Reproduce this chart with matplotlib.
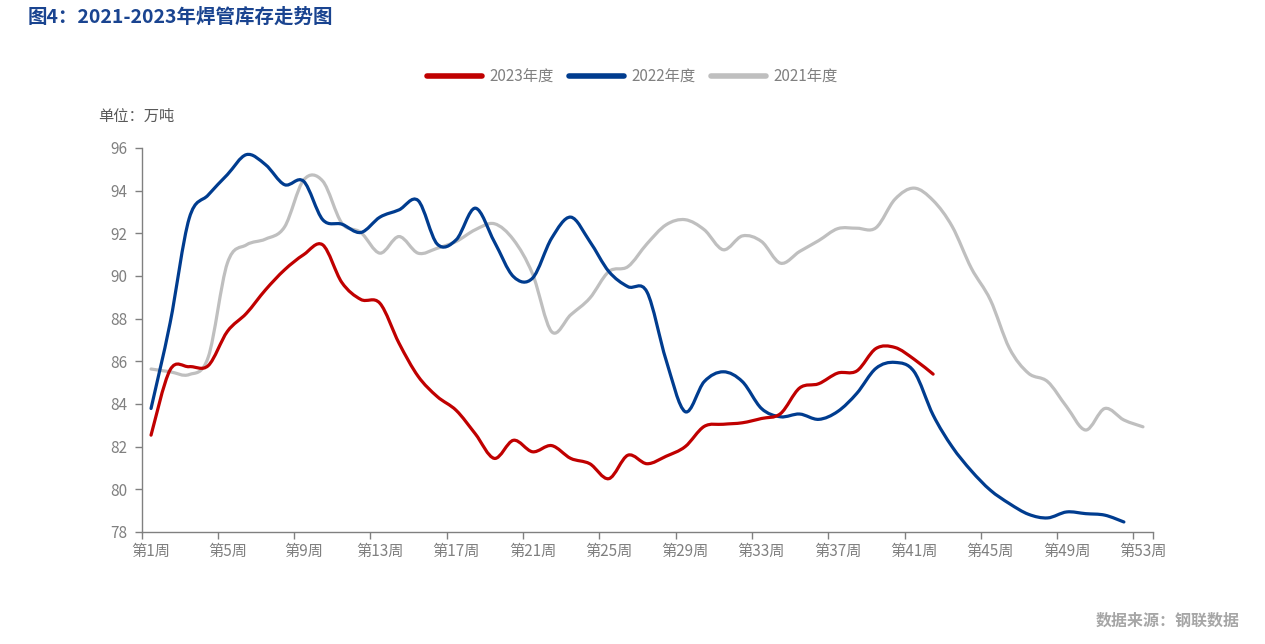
import numpy as np
import matplotlib
matplotlib.use('Agg')
import matplotlib.pyplot as plt
from matplotlib.path import Path
from matplotlib.patches import PathPatch
from matplotlib.lines import Line2D

plt.rcParams['font.family'] = ['Noto Sans CJK SC', 'DejaVu Sans']

# weekly stock of welded pipe, 10k tonnes
stock_2023 = [82.54, 85.6, 85.75, 85.8, 87.4, 88.25, 89.35, 90.29, 91.0, 91.46,
              89.7, 88.9, 88.72, 86.85, 85.3, 84.35, 83.7, 82.6, 81.45, 82.3,
              81.76, 82.05, 81.45, 81.2, 80.5, 81.6, 81.2, 81.55, 82.0, 82.95,
              83.05, 83.12, 83.32, 83.55, 84.75, 84.95, 85.45, 85.55, 86.6, 86.65,
              86.1, 85.4]
stock_2022 = [83.79, 87.8, 92.7, 93.8, 94.75, 95.69, 95.22, 94.28, 94.44, 92.64,
              92.43, 92.04, 92.76, 93.1, 93.54, 91.5, 91.7, 93.18, 91.6, 89.97,
              89.9, 91.77, 92.76, 91.62, 90.21, 89.5, 89.25, 86.06, 83.64, 85.05,
              85.51, 85.05, 83.79, 83.4, 83.53, 83.28, 83.65, 84.5, 85.67, 85.95,
              85.52, 83.48, 81.99, 80.87, 79.96, 79.33, 78.83, 78.66, 78.94, 78.86,
              78.79, 78.47]
stock_2021 = [85.64, 85.51, 85.38, 86.2, 90.6, 91.46, 91.73, 92.3, 94.5, 94.45,
              92.48, 92.04, 91.07, 91.85, 91.07, 91.3, 91.62, 92.17, 92.45, 91.7,
              90.1, 87.39, 88.18, 88.96, 90.21, 90.44, 91.51, 92.4, 92.64, 92.17,
              91.23, 91.88, 91.62, 90.6, 91.15, 91.66, 92.22, 92.24, 92.26, 93.6,
              94.12, 93.54, 92.32, 90.37, 88.88, 86.61, 85.44, 85.05, 83.87, 82.78,
              83.79, 83.25, 82.93]

series_names = ['2023年度', '2022年度', '2021年度']
series_colors = ['#C00000', '#003C8F', '#BFBFBF']
label_weeks = list(range(1, 54, 4))
week_labels = ['第%d周' % w for w in label_weeks]
y_ticks = list(range(78, 97, 2))


def smooth_path(ys):
    # Catmull-Rom style smoothed line, drawn as bezier segments
    xs = np.arange(1, len(ys) + 1, dtype=float)
    pts = np.column_stack([xs, np.array(ys, dtype=float)])
    verts = [pts[0]]
    codes = [Path.MOVETO]
    n = len(pts)
    for i in range(n - 1):
        p0 = pts[i - 1] if i > 0 else pts[i]
        p1 = pts[i]
        p2 = pts[i + 1]
        p3 = pts[i + 2] if i + 2 < n else pts[i + 1]
        c1 = p1 + (p2 - p0) / 6.0
        c2 = p2 - (p3 - p1) / 6.0
        verts += [c1, c2, p2]
        codes += [Path.CURVE4] * 3
    return Path(verts, codes)


fig = plt.figure(figsize=(12.65, 6.44), dpi=100)
ax = fig.add_axes([141.5 / 1265, 1 - 532 / 644, 1011 / 1265, 384 / 644])

# draw 2021 first so the newer years sit on top
for ys, color in [(stock_2021, series_colors[2]), (stock_2022, series_colors[1]),
                  (stock_2023, series_colors[0])]:
    patch = PathPatch(smooth_path(ys), facecolor='none', edgecolor=color,
                      lw=2.3, capstyle='round', joinstyle='round')
    ax.add_patch(patch)

ax.set_xlim(0.5, 53.5)
ax.set_ylim(78, 96)

gray = '#808080'
ax.set_xticks(np.arange(0.5, 54, 4).tolist() + [53.5])
ax.set_xticklabels([])
ax.set_xticks(label_weeks, minor=True)
ax.set_xticklabels(week_labels, minor=True)
ax.tick_params(axis='x', which='major', direction='out', length=5, color=gray, width=1)
ax.tick_params(axis='x', which='minor', length=0, pad=8, labelsize=11, labelcolor=gray)
ax.set_yticks(y_ticks)
ax.tick_params(axis='y', direction='out', length=5, color=gray, width=1,
               labelsize=11, labelcolor=gray, pad=5)

for side in ['top', 'right']:
    ax.spines[side].set_visible(False)
for side in ['left', 'bottom']:
    ax.spines[side].set_color(gray)
    ax.spines[side].set_linewidth(1)

handles = [Line2D([], [], color=c, lw=4, solid_capstyle='round') for c in series_colors]
fig.legend(handles, series_names, loc='center', bbox_to_anchor=(0.5, 1 - 77 / 644),
           ncol=3, frameon=False, fontsize=11, labelcolor=gray, handlelength=3.6,
           handletextpad=0.5, columnspacing=1.0)

fig.text(28 / 1265, 1 - 17 / 644, '图4：2021-2023年焊管库存走势图', fontsize=14,
         fontweight='bold', color='#1A4490', ha='left', va='center')
fig.text(98 / 1265, 1 - 116 / 644, '单位：万吨', fontsize=11, color='#595959',
         ha='left', va='center')
fig.text(1240 / 1265, 1 - 621 / 644, '数据来源：钢联数据', fontsize=11.5,
         color='#A6A6A6', ha='right', va='center', fontweight='bold')

fig.savefig('out.png', dpi=100)
